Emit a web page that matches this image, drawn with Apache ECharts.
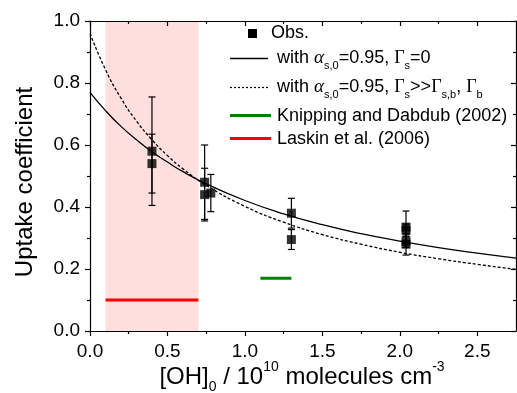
<!DOCTYPE html>
<html><head><meta charset="utf-8">
<script src="https://cdn.jsdelivr.net/npm/echarts@6/dist/echarts.min.js"></script>
<style>html,body{margin:0;padding:0;background:#fff}#c{width:517px;height:393px}</style>
</head><body><div id="c"></div>
<script>
// ---- tick values ----
const xTickValues = [0, 0.5, 1.0, 1.5, 2.0, 2.5];
const xMinorValues = [0.25, 0.75, 1.25, 1.75, 2.25];
const yTickValues = [0, 0.2, 0.4, 0.6, 0.8, 1.0];

// ---- observations ----
const obsX   = [0.40, 0.40, 0.74, 0.74, 0.78, 1.30, 1.30, 2.04, 2.04, 2.04, 2.04];
const obsY   = [0.58, 0.54, 0.48, 0.44, 0.445, 0.38, 0.295, 0.335, 0.325, 0.29, 0.28];
const obsErr = [0.175, 0.095, 0.12, 0.085, 0.06, 0.048, 0.032, 0.052, 0.02, 0.02, 0.035];

// ---- model curves ----
const curveX  = [0, 0.1, 0.2, 0.3, 0.4, 0.5, 0.6, 0.75, 1.0, 1.25, 1.5, 1.75, 2.0, 2.25, 2.5, 2.75];
const solidY  = [0.770, 0.711, 0.660, 0.617, 0.578, 0.545, 0.514, 0.475, 0.421, 0.378, 0.343, 0.314, 0.290, 0.269, 0.251, 0.235];
const dottedY = [0.960, 0.843, 0.751, 0.677, 0.617, 0.566, 0.523, 0.470, 0.402, 0.351, 0.311, 0.280, 0.254, 0.233, 0.215, 0.199];

// ---- literature values ----
const knippingX = [1.1, 1.3];
const knippingY = [0.17, 0.17];
const laskinX = [0.1, 0.7];
const laskinY = [0.1, 0.1];
const shadeRange = [0.1, 0.7];

const FONT = 'Liberation Sans';
const BLACK = '#000';
const zip = (a, b) => a.map((v, i) => [v, b[i]]);

const chart = echarts.init(document.getElementById('c'), null, {renderer: 'canvas'});
const axLine = {show: true, onZero: false, lineStyle: {color: BLACK, width: 1.2}};
const tickLS = {color: BLACK, width: 1.2};
const baseX = {type: 'value', min: 0, max: 2.75, interval: 0.5, splitLine: {show: false}};
const baseY = {type: 'value', min: 0, max: 1, interval: 0.2, splitLine: {show: false}};

const option = {
  animation: false,
  backgroundColor: '#fff',
  grid: {left: 90, top: 21, right: 1, bottom: 62},
  xAxis: [
    Object.assign({}, baseX, {position: 'bottom', axisLine: axLine,
      axisTick: {show: true, inside: false, length: 5, customValues: xTickValues, lineStyle: tickLS},
      axisLabel: {customValues: xTickValues, formatter: v => v.toFixed(1), color: BLACK, fontSize: 19, fontFamily: FONT, margin: 11}}),
    Object.assign({}, baseX, {position: 'bottom', axisLine: {show: false, onZero: false},
      axisTick: {show: true, inside: false, length: 3, customValues: xMinorValues, lineStyle: tickLS},
      axisLabel: {show: false}}),
    Object.assign({}, baseX, {position: 'top', axisLine: axLine,
      axisTick: {show: true, inside: true, length: 5, customValues: xTickValues, lineStyle: tickLS},
      axisLabel: {show: false}}),
    Object.assign({}, baseX, {position: 'top', axisLine: {show: false, onZero: false},
      axisTick: {show: true, inside: true, length: 3, customValues: xMinorValues, lineStyle: tickLS},
      axisLabel: {show: false}})
  ],
  yAxis: [
    Object.assign({}, baseY, {position: 'left', axisLine: axLine,
      axisTick: {show: true, inside: false, length: 5, lineStyle: tickLS},
      minorTick: {show: true, splitNumber: 2, length: 3, lineStyle: tickLS},
      axisLabel: {formatter: v => v.toFixed(1), color: BLACK, fontSize: 19, fontFamily: FONT, margin: 10}}),
    Object.assign({}, baseY, {position: 'right', axisLine: axLine,
      axisTick: {show: true, inside: true, length: 5, lineStyle: tickLS},
      minorTick: {show: true, splitNumber: 2, length: 3, lineStyle: tickLS},
      axisLabel: {show: false}})
  ],
  series: [
    {
      type: 'custom', name: 'shade', z: 0, silent: true,
      data: [[shadeRange[0], shadeRange[1]]],
      renderItem: function (params, api) {
        const p0 = api.coord([api.value(0), 1]);
        const p1 = api.coord([api.value(1), 0]);
        return {type: 'rect', shape: {x: p0[0], y: p0[1], width: p1[0] - p0[0], height: p1[1] - p0[1]},
                style: {fill: '#FFDEDE'}};
      }
    },
    {type: 'line', name: 'with αs,0=0.95, Γs=0', data: zip(curveX, solidY), smooth: true, showSymbol: false, z: 3,
     lineStyle: {color: BLACK, width: 1.3}},
    {type: 'line', name: 'with αs,0=0.95, Γs>>Γs,b, Γb', data: zip(curveX, dottedY), smooth: true, showSymbol: false, z: 3,
     lineStyle: {color: BLACK, width: 1.3, type: [3, 2]}},
    {type: 'line', name: 'Knipping and Dabdub (2002)', data: zip(knippingX, knippingY), showSymbol: false, z: 3,
     lineStyle: {color: '#008000', width: 3}},
    {type: 'line', name: 'Laskin et al. (2006)', data: zip(laskinX, laskinY), showSymbol: false, z: 3,
     lineStyle: {color: '#FF0000', width: 3}},
    {
      type: 'custom', name: 'err', z: 4,
      data: obsX.map((x, i) => [x, obsY[i] - obsErr[i], obsY[i] + obsErr[i]]),
      renderItem: function (params, api) {
        const lo = api.coord([api.value(0), api.value(1)]);
        const hi = api.coord([api.value(0), api.value(2)]);
        const w = 3.5;
        const ls = {stroke: BLACK, lineWidth: 1.2};
        return {type: 'group', children: [
          {type: 'line', shape: {x1: lo[0], y1: lo[1], x2: hi[0], y2: hi[1]}, style: ls},
          {type: 'line', shape: {x1: lo[0] - w, y1: lo[1], x2: lo[0] + w, y2: lo[1]}, style: ls},
          {type: 'line', shape: {x1: hi[0] - w, y1: hi[1], x2: hi[0] + w, y2: hi[1]}, style: ls}
        ]};
      }
    },
    {type: 'scatter', name: 'Obs.', data: zip(obsX, obsY), symbol: 'rect', symbolSize: 9, z: 5,
     itemStyle: {color: BLACK}}
  ],
  graphic: [
    {type: 'rect', shape: {x: 248, y: 29, width: 9, height: 9}, style: {fill: BLACK}},
    {type: 'text', x: 271, y: 33, style: {text: 'Obs.', fontSize: 18, fontFamily: FONT, fill: BLACK, verticalAlign: 'middle'}},
    {type: 'line', shape: {x1: 230, y1: 58.5, x2: 268, y2: 58.5}, style: {stroke: BLACK, lineWidth: 1.3}},
    {type: 'text', x: 277, y: 58, style: {
      text: 'with {a|α}{s|s,0}=0.95, {g|Γ}{s|s}=0',
      fontSize: 18, fontFamily: FONT, fill: BLACK, lineHeight: 26, verticalAlign: 'middle',
      rich: {a: {fontFamily: 'Liberation Serif', fontStyle: 'italic', fontSize: 19},
             g: {fontFamily: 'Liberation Serif', fontSize: 18},
             s: {fontSize: 11, lineHeight: 11, verticalAlign: 'bottom', fontFamily: FONT}}}},
    {type: 'line', shape: {x1: 230, y1: 87.5, x2: 268, y2: 87.5}, style: {stroke: BLACK, lineWidth: 1.2, lineDash: [2, 2]}},
    {type: 'text', x: 277, y: 87, style: {
      text: 'with {a|α}{s|s,0}=0.95, {g|Γ}{s|s}>>{g|Γ}{s|s,b}, {g|Γ}{s|b}',
      fontSize: 18, fontFamily: FONT, fill: BLACK, lineHeight: 26, verticalAlign: 'middle',
      rich: {a: {fontFamily: 'Liberation Serif', fontStyle: 'italic', fontSize: 19},
             g: {fontFamily: 'Liberation Serif', fontSize: 18},
             s: {fontSize: 11, lineHeight: 11, verticalAlign: 'bottom', fontFamily: FONT}}}},
    {type: 'line', shape: {x1: 230, y1: 115.5, x2: 271, y2: 115.5}, style: {stroke: '#008000', lineWidth: 3}},
    {type: 'text', x: 277, y: 116, style: {text: 'Knipping and Dabdub (2002)', fontSize: 18, fontFamily: FONT, fill: BLACK, verticalAlign: 'middle'}},
    {type: 'line', shape: {x1: 230, y1: 138.5, x2: 271, y2: 138.5}, style: {stroke: '#FF0000', lineWidth: 3}},
    {type: 'text', x: 277, y: 139, style: {text: 'Laskin et al. (2006)', fontSize: 18, fontFamily: FONT, fill: BLACK, verticalAlign: 'middle'}},
    // axis titles
    {type: 'text', x: 25, y: 182, rotation: Math.PI / 2, style: {text: 'Uptake coefficient', fontSize: 24, fontFamily: FONT, fill: BLACK, align: 'center', verticalAlign: 'middle'}},
    {type: 'text', x: 302, y: 377, style: {
      text: '[OH]{sub|0} / 10{sup|10} molecules cm{sup|-3}',
      fontSize: 24, fontFamily: FONT, fill: BLACK, lineHeight: 34, align: 'center', verticalAlign: 'middle',
      rich: {sub: {fontSize: 14, lineHeight: 14, verticalAlign: 'bottom', fontFamily: FONT},
             sup: {fontSize: 14, lineHeight: 14, verticalAlign: 'top', fontFamily: FONT}}}}
  ]
};
chart.setOption(option);
</script>
</body></html>
